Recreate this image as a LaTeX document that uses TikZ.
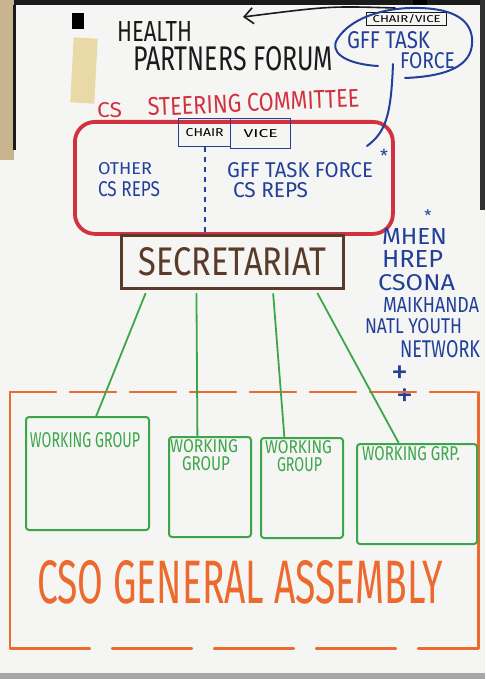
\documentclass[tikz,border=0pt]{standalone}
\usepackage{fontspec}
\setmainfont{Fira Sans}
\usepackage{graphicx}
\usetikzlibrary{arrows.meta,calc}
\definecolor{ink}{HTML}{1A1A1A}
\definecolor{pblue}{HTML}{22409A}
\definecolor{pred}{HTML}{D2323F}
\definecolor{pbrown}{HTML}{5A3A28}
\definecolor{pgreen}{HTML}{3DA64A}
\definecolor{porange}{HTML}{EC6A2E}
\definecolor{paper}{HTML}{F5F5F3}
\definecolor{beige}{HTML}{C8B48F}
\definecolor{tape}{HTML}{E8D9A6}
\definecolor{pin}{HTML}{1E8A4A}
\newcommand{\fitbox}[3]{\resizebox{#1pt}{#2pt}{#3}}
\begin{document}
\begin{tikzpicture}[x=1pt,y=-1pt,
  txt/.style={inner sep=0pt, outer sep=0pt, anchor=base west},
  hand/.style={line width=2pt, line cap=round, line join=round},
  wgbox/.style={draw=pgreen, line width=2pt, rounded corners=3pt, anchor=north west, inner sep=0pt, minimum width=#1},
  wgbox/.default=80pt,
  link/.style={draw=pgreen, line width=1.8pt, line cap=round, shorten <=4pt},
  galine/.style={draw=porange, line width=2.2pt, line cap=round},
  plus/.style={text=pblue, inner sep=0pt, anchor=base, font=\fontsize{34}{34}\selectfont}
]
\useasboundingbox (0,0) rectangle (485,679);
% paper and surroundings
\fill[paper] (0,0) rectangle (485,679);
\fill[beige] (0,0) rectangle (14,160);
\fill[ink] (14,0) rectangle (485,5);
\fill[ink] (13,5) rectangle (16,150);
\fill[ink!90] (480,0) rectangle (485,210);
\fill[gray!70] (0,673) rectangle (485,679);
\fill[tape, rotate around={-3:(84,70)}] (72,38) rectangle (96,103);
\fill[pin] (72,13) rectangle (84,29);
\fill[pin] (413,0) rectangle (427,5);

% Health Partners Forum
\node[txt, text=ink] (health) at (117,42) {\fitbox{75}{20}{HEALTH}};
\node[txt, text=ink] (hpf) at (133,71) {\fitbox{200}{24}{PARTNERS FORUM}};

% GFF task force (top right)
\node[draw=ink, line width=1.3pt, anchor=north west, inner sep=0pt, minimum width=80pt, minimum height=13pt] (cv) at (366,12) {\fitbox{68}{8}{CHAIR/VICE}};
\node[txt, text=pblue] (gff1) at (347,49) {\fitbox{83}{17}{GFF TASK}};
\node[txt, text=pblue] (gff2) at (400,69) {\fitbox{55}{16}{FORCE}};
\coordinate (ovs) at (378,66);
\coordinate (ove) at (405,78);
\draw[pblue, hand] (ovs) .. controls (345,64) and (328,52) .. (338,38)
  .. controls (350,20) and (378,9) .. (410,8)
  .. controls (450,7) and (470,18) .. (472,38)
  .. controls (474,62) and (455,76) .. (ove);

% arrow to Health Partners Forum
\coordinate (arrs) at (395,8);
\coordinate (arrt) at (243,17);
\draw[ink, line width=1.6pt, line cap=round, -{Straight Barb[length=9pt,width=16pt]}] (arrs) .. controls (330,6) .. (arrt);

% CS Steering Committee
\node[txt, text=pred] (cs) at (97,118) {\fitbox{25}{15}{CS}};
\node[txt, text=pred, rotate=2.5] (steer) at (148,116) {\fitbox{212}{18}{STEERING COMMITTEE}};
\node[draw=pred, line width=3.8pt, rounded corners=20pt, anchor=north west, minimum width=318pt, minimum height=112pt, inner sep=0pt] (sc) at (73,120) {};
\node[draw=pblue, line width=1.4pt, anchor=north west, inner sep=0pt, minimum width=52pt, minimum height=28pt] (chair) at (178,118) {\fitbox{38}{8}{CHAIR}};
\node[draw=pblue, line width=1.4pt, anchor=north west, inner sep=0pt, minimum width=60pt, minimum height=30pt] (vice) at (230,118) {\fitbox{34}{8}{VICE}};
\draw[pblue, line width=1.6pt, dash pattern=on 5pt off 5pt] (chair.south) -- (chair.south |- sc.south);
\node[txt, text=pblue] (other1) at (98,175) {\fitbox{54}{12}{OTHER}};
\node[txt, text=pblue] (other2) at (98,196) {\fitbox{62}{15}{CS REPS}};
\node[txt, text=pblue] (gffcs) at (227,177) {\fitbox{146}{15}{GFF TASK FORCE}};
\node[txt, text=pblue] (cs2) at (233,197) {\fitbox{75}{15}{CS REPS}};
\node[text=pblue, inner sep=0pt, font=\fontsize{18}{18}\selectfont] (ast1) at (384,156) {*};
\coordinate (ovb) at (393,64);
\draw[pblue, hand] (ovb) .. controls (391,115) and (386,132) .. ([shift={(-6,-16)}]gffcs.north east);

% Secretariat
\node[draw=pbrown, line width=2.8pt, anchor=north west, inner sep=0pt, minimum width=222pt, minimum height=53pt, text=pbrown] (sec) at (120,234) {\fitbox{187}{28}{SECRETARIAT}};

% Blue list
\node[text=pblue, inner sep=0pt, font=\fontsize{16}{16}\selectfont] (ast2) at (428,216) {*};
\node[txt, text=pblue] (mhen) at (382,244) {\fitbox{65}{16}{MHEN}};
\node[txt, text=pblue] (hrep) at (382,267) {\fitbox{61}{17}{HREP}};
\node[txt, text=pblue] (csona) at (378,290) {\fitbox{77}{16}{CSONA}};
\node[txt, text=pblue] (maik) at (383,312) {\fitbox{96}{15}{MAIKHANDA}};
\node[txt, text=pblue] (natl) at (365,333) {\fitbox{97}{15}{NATL YOUTH}};
\node[txt, text=pblue] (netw) at (400,357) {\fitbox{80}{17}{NETWORK}};
\node[plus] (plus1) at (400,383) {+};
\node[plus] (plus2) at (405,406) {+};

% CSO General Assembly frame
\node[anchor=north west, inner sep=0pt, minimum width=468pt, minimum height=256pt] (ga) at (10,392) {};
\draw[galine, dash pattern=on 46pt off 14pt] (ga.north west) -- (ga.north east);
\draw[galine] (ga.north west) -- (ga.south west);
\draw[galine] (ga.north east) -- (ga.south east);
\draw[galine, dash pattern=on 80pt off 22pt] (ga.south west) -- (ga.south east);
\node[txt, text=porange] (gat) at (37,603) {\fitbox{406}{43}{CSO GENERAL ASSEMBLY}};

% Working groups
\node[wgbox=123pt, minimum height=113pt] (wg1) at (25,416) {};
\node[wgbox=82pt, minimum height=100pt] (wg2) at (168,436) {};
\node[wgbox=82pt, minimum height=100pt] (wg3) at (260,437) {};
\node[wgbox=120pt, minimum height=100pt] (wg4) at (356,443) {};
\node[txt, text=pgreen] (wg1t) at (30,447) {\fitbox{110}{15}{WORKING GROUP}};
\node[txt, text=pgreen] (wg2a) at (170,452) {\fitbox{68}{13}{WORKING}};
\node[txt, text=pgreen] (wg2b) at (182,470) {\fitbox{48}{14}{GROUP}};
\node[txt, text=pgreen] (wg3a) at (265,453) {\fitbox{67}{13}{WORKING}};
\node[txt, text=pgreen] (wg3b) at (277,471) {\fitbox{45}{14}{GROUP}};
\node[txt, text=pgreen] (wg4t) at (362,460) {\fitbox{98}{14}{WORKING GRP.}};

% Links from secretariat to working groups
\draw[link] ($(sec.south west)!0.12!(sec.south east)$) -- ($(wg1.north west)!0.57!(wg1.north east)$);
\draw[link] ($(sec.south west)!0.34!(sec.south east)$) -- ($(wg2.north west)!0.35!(wg2.north east)$);
\draw[link] ($(sec.south west)!0.68!(sec.south east)$) -- ($(wg3.north west)!0.29!(wg3.north east)$);
\draw[link] ($(sec.south west)!0.87!(sec.south east)$) -- ($(wg4.north west)!0.35!(wg4.north east)$);
\end{tikzpicture}
\end{document}
